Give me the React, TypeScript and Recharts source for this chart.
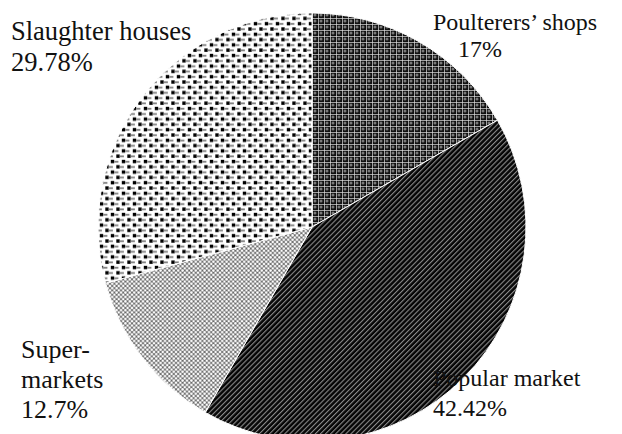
import React from "react";
import { PieChart, Pie, Cell } from "recharts";

// Market channels, clockwise from 12 o'clock
const CATEGORIES = ["Poulterers\u2019 shops", "Popular market", "Super-markets", "Slaughter houses"];
const SHARES = [17, 42.42, 12.7, 29.78];
const SHARE_LABELS = ["17%", "42.42%", "12.7%", "29.78%"];

// label lines and where they sit (left x, first baseline, line gap, size)
const LABEL_LAYOUT = [
  { lines: [["Poulterers\u2019 shops", 0], [SHARE_LABELS[0], 25]], x: 433, y: 30, gap: 27, size: 24 },
  { lines: [["Popular market", 0], [SHARE_LABELS[1], 0]], x: 433, y: 386, gap: 30, size: 24 },
  { lines: [["Super-", 0], ["markets", 0], [SHARE_LABELS[2], 0]], x: 21, y: 358, gap: 30, size: 26 },
  { lines: [["Slaughter houses", 0], [SHARE_LABELS[3], 0]], x: 11, y: 40, gap: 31, size: 26.5 },
];

const FILLS = ["url(#pat-cross)", "url(#pat-stripe)", "url(#pat-light)", "url(#pat-dots)"];

const data = CATEGORIES.map((name, i) => ({ name, value: SHARES[i] }));

const SERIF = "'Liberation Serif', 'Times New Roman', Times, serif";

const renderLabel = (props: any) => {
  const layout = LABEL_LAYOUT[props.index];
  if (!layout) return null;
  return (
    <text
      key={`lbl-${props.index}`}
      x={layout.x}
      y={layout.y}
      fill="#111"
      stroke="none"
      textAnchor="start"
      style={{ fontFamily: SERIF, fontSize: layout.size }}
    >
      {layout.lines.map(([line, dx], j) => (
        <tspan key={j} x={layout.x + (dx as number)} dy={j === 0 ? 0 : layout.gap}>
          {line}
        </tspan>
      ))}
    </text>
  );
};

export default function App() {
  return (
    <div style={{ position: "absolute", left: 0, top: 0, background: "#fff" }}>
      <PieChart width={622} height={434}>
        <defs>
          <pattern id="pat-cross" width="6" height="6" patternUnits="userSpaceOnUse">
            <rect width="6" height="6" fill="#111" />
            <circle cx="3" cy="3" r="1.5" fill="#7a7a7a" />
            <rect x="0" y="0" width="6" height="0.7" fill="#e0e0e0" />
            <rect x="0" y="0" width="0.7" height="6" fill="#e0e0e0" />
          </pattern>
          <pattern id="pat-stripe" width="3.6" height="10" patternUnits="userSpaceOnUse" patternTransform="rotate(45)">
            <rect width="3.6" height="10" fill="#050505" />
            <rect x="0" y="0" width="1.1" height="10" fill="#8c8c8c" />
          </pattern>
          <pattern id="pat-light" width="4.4" height="4.4" patternUnits="userSpaceOnUse">
            <rect width="4.4" height="4.4" fill="#666" />
            <circle cx="0" cy="0" r="1.3" fill="#fff" />
            <circle cx="4.4" cy="0" r="1.3" fill="#fff" />
            <circle cx="0" cy="4.4" r="1.3" fill="#fff" />
            <circle cx="4.4" cy="4.4" r="1.3" fill="#fff" />
            <circle cx="2.2" cy="2.2" r="1.3" fill="#fff" />
          </pattern>
          <pattern id="pat-dots" width="11" height="10.6" patternUnits="userSpaceOnUse">
            <rect width="11" height="10.6" fill="#fff" />
            <rect x="0.8" y="0.8" width="3.4" height="3.4" fill="#000" />
            <rect x="6.3" y="6.1" width="3.4" height="3.4" fill="#000" />
            <rect x="4.2" y="1.8" width="4.2" height="1.8" fill="#808080" />
            <rect x="9.7" y="7.1" width="1.3" height="1.8" fill="#808080" />
            <rect x="0" y="7.1" width="2.9" height="1.8" fill="#808080" />
          </pattern>
        </defs>
        <Pie
          data={data}
          dataKey="value"
          nameKey="name"
          cx={307}
          cy={222}
          outerRadius={214}
          startAngle={90}
          endAngle={-270}
          stroke="#fff"
          strokeWidth={1}
          labelLine={false}
          label={renderLabel}
          isAnimationActive={false}
        >
          {data.map((d, i) => (
            <Cell key={d.name} fill={FILLS[i]} />
          ))}
        </Pie>
      </PieChart>
    </div>
  );
}
